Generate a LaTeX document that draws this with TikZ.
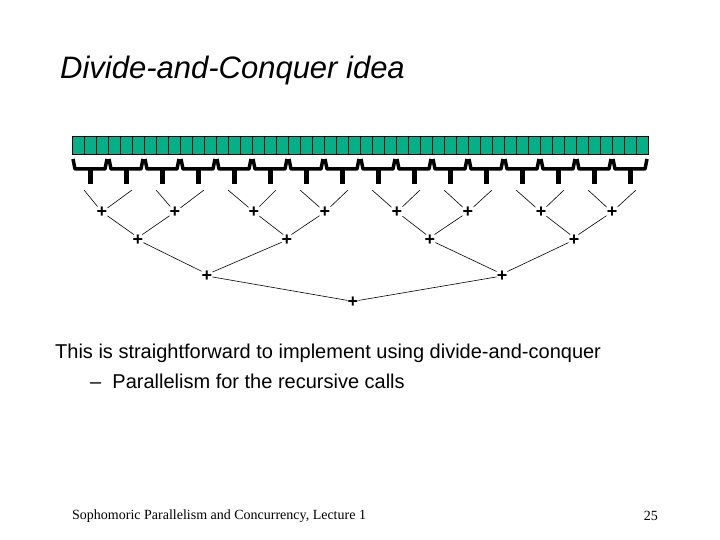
\documentclass[tikz,border=0pt]{standalone}
\usepackage{fontspec}
\setmainfont{Liberation Serif}
\setsansfont{Liberation Sans}
\begin{document}
\begin{tikzpicture}[x=1pt,y=-1pt,
  cell/.style={draw=black,line width=0.5pt},
  br/.style={line width=3.5pt,line join=round},
  stem/.style={line width=5pt},
  plus/.style={font=\sffamily\fontsize{18}{18}\selectfont\bfseries,inner sep=0pt},
  ln/.style={line width=0.6pt},
  every node/.style={inner sep=0pt}]
\useasboundingbox (0,0) rectangle (720,540);
\node[anchor=west,font=\sffamily\itshape\fontsize{31}{33}\selectfont] (title) at (60,70) {Divide-and-Conquer idea};
\foreach \i in {0,...,47}{\draw[cell,fill={rgb,255:red,0;green,176;blue,136}] (72+12*\i,136) rectangle ++(12,18);}
\foreach \i in {0,...,15}{
  \pgfmathsetmacro{\xa}{73+36*\i}\pgfmathsetmacro{\m}{90+36*\i}\pgfmathsetmacro{\xb}{107+36*\i}
  \draw[br] (\xa,159) -- (\xa+2,169) -- (\xb-2,169) -- (\xb,159);
  \draw[stem] (\m,168) -- (\m,184);
  \coordinate (t\i) at (90+36*\i,190);
}
\foreach \x [count=\k from 0] in {102,175,254,325,397,468,541,612}{\node[plus] (a\k) at (\x,212) {+};}
\foreach \k in {0,...,7}{
  \pgfmathtruncatemacro{\l}{2*\k}\pgfmathtruncatemacro{\r}{2*\k+1}
  \draw[ln] ([xshift=-6pt]t\l) -- ([xshift=-3pt,yshift=-5pt]a\k);
  \draw[ln] ([xshift=6pt]t\r) -- ([xshift=3pt,yshift=-5pt]a\k);
}
\foreach \x [count=\k from 0] in {138,287,430,574}{\node[plus] (b\k) at (\x,240) {+};}
\foreach \k in {0,...,3}{
  \pgfmathtruncatemacro{\l}{2*\k}\pgfmathtruncatemacro{\r}{2*\k+1}
  \draw[ln] ([xshift=2pt,yshift=16pt]a\l) -- ([xshift=-6pt,yshift=-2pt]b\k);
  \draw[ln] ([xshift=-2pt,yshift=16pt]a\r) -- ([xshift=6pt,yshift=-2pt]b\k);
}
\foreach \x [count=\k from 0] in {207,502}{\node[plus] (c\k) at (\x,276) {+};}
\foreach \k in {0,1}{
  \pgfmathtruncatemacro{\l}{2*\k}\pgfmathtruncatemacro{\r}{2*\k+1}
  \draw[ln] ([xshift=14pt,yshift=12pt]b\l) -- ([xshift=-7pt,yshift=-4pt]c\k);
  \draw[ln] ([xshift=-14pt,yshift=12pt]b\r) -- ([xshift=7pt,yshift=-4pt]c\k);
}
\node[plus] (d) at (353,302) {+};
\draw[ln] ([xshift=15pt,yshift=12pt]c0) -- ([xshift=-8pt,yshift=4pt]d);
\draw[ln] ([xshift=-15pt,yshift=12pt]c1) -- ([xshift=8pt,yshift=4pt]d);
\node[anchor=west,font=\sffamily\fontsize{20}{24}\selectfont] (l1) at (55,353) {This is straightforward to implement using divide-and-conquer};
\node[anchor=west,font=\sffamily\fontsize{20}{24}\selectfont] (l2) at (90,381) {--\ \ Parallelism for the recursive calls};
\node[anchor=west,font=\fontsize{14}{16}\selectfont] (foot) at (72,516) {Sophomoric Parallelism and Concurrency, Lecture 1};
\node[anchor=east,font=\fontsize{14}{16}\selectfont] (num) at (658,516) {25};
\end{tikzpicture}
\end{document}
